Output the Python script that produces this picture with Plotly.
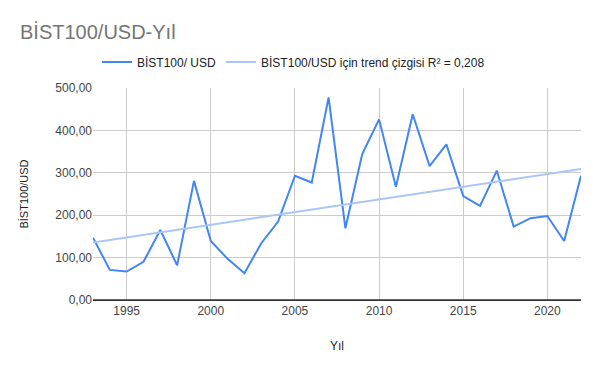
import numpy as np
import plotly.graph_objects as go

years = list(range(1993, 2023))
values = [147, 71, 67, 90, 165, 82, 281, 139, 97, 63, 134, 185, 293, 277, 478,
          169, 344, 426, 267, 438, 316, 367, 245, 222, 305, 173, 193, 198, 139, 293]

series_name = "BİST100/ USD"
trend_name = "BİST100/USD için trend çizgisi R² = 0,208"
title_text = "BİST100/USD-Yıl"
y_title = "BİST100/USD"
x_title = "Yıl"
x_ticks = [1995, 2000, 2005, 2010, 2015, 2020]
y_ticks = [0, 100, 200, 300, 400, 500]

x = np.array(years, dtype=float)
y = np.array(values, dtype=float)
slope, intercept = np.polyfit(x, y, 1)
trend = slope * x + intercept

fig = go.Figure()
fig.add_trace(go.Scatter(x=years, y=values, mode="lines", name=series_name,
                         line=dict(color="#4285F4", width=2)))
fig.add_trace(go.Scatter(x=years, y=trend, mode="lines", name=trend_name,
                         line=dict(color="#aac6f8", width=2)))

# page body has an 8px margin; figure sized so plot area lands where the reference has it
W, H = 592, 363
font = "Liberation Sans, Arial, sans-serif"
fig.update_layout(
    width=W, height=H,
    margin=dict(l=85, r=19, t=80, b=71, autoexpand=False),
    paper_bgcolor="white", plot_bgcolor="white",
    separators=",.",
    font=dict(family=font, size=12, color="#222222"),
    title=dict(text=title_text, x=12 / W, xanchor="left", y=1 - 24 / H, yanchor="middle",
               font=dict(family=font, size=20, color="#757575")),
    legend=dict(orientation="h", x=89 / W, xanchor="left", xref="container",
                y=1 - 54 / H, yref="container", yanchor="middle",
                font=dict(family=font, size=12, color="#222222"),
                itemwidth=30, tracegroupgap=0),
    showlegend=True,
    xaxis=dict(range=[1993, 2022], tickvals=x_ticks, showgrid=True,
               gridcolor="#cccccc", gridwidth=1, zeroline=False,
               showline=True, linecolor="#333333", linewidth=1,
               ticks="", tickfont=dict(size=12, color="#444444"), automargin=False,
               title=dict(text=x_title, font=dict(size=12, color="#222222"), standoff=24)),
    yaxis=dict(range=[0, 500], tickvals=y_ticks, tickformat=".2f",
               showgrid=True, gridcolor="#cccccc", gridwidth=1, zeroline=False,
               showline=False, ticks="", tickfont=dict(size=12, color="#444444"),
               automargin=False,
               title=dict(text=y_title, font=dict(size=11, color="#222222"), standoff=24)),
)
fig.add_shape(type="line", xref="paper", yref="y", x0=0, x1=1, y0=0, y1=0,
              line=dict(color="#333333", width=1.5))
fig.write_html("out.html")
